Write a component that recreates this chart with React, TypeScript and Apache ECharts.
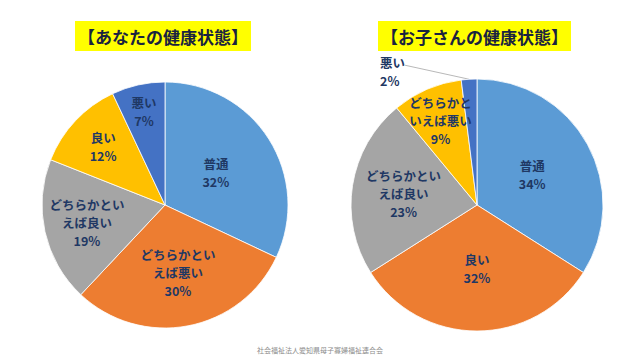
import React, { useEffect, useRef } from "react";
import * as echarts from "echarts";

// ---- Data ----
const leftTitle = "【あなたの健康状態】";
const leftCategories = ["普通", "どちらかといえば悪い", "どちらかといえば良い", "良い", "悪い"];
const leftLabelText = ["普通", "どちらかとい\nえば悪い", "どちらかとい\nえば良い", "良い", "悪い"];
const leftValues = [32, 30, 19, 12, 7];

const rightTitle = "【お子さんの健康状態】";
const rightCategories = ["普通", "良い", "どちらかといえば良い", "どちらかといえば悪い", "悪い"];
const rightLabelText = ["普通", "良い", "どちらかとい\nえば良い", "どちらかと\nいえば悪い", "悪い"];
const rightValues = [34, 32, 23, 9, 2];

const footerText = "社会福祉法人愛知県母子寡婦福祉連合会";

// ---- Styles ----
const sliceColors = ["#5B9BD5", "#ED7D31", "#A5A5A5", "#FFC000", "#4472C4"];
const labelColor = "#1F3864";
const FONT = "'Noto Sans CJK JP', 'Noto Sans', sans-serif";

const L = { cx: 165, cy: 205, r: 123 };
const R = { cx: 477, cy: 205, r: 126 };
// label distance from centre as fraction of radius (null = outside label with leader line)
const leftLabelFrac: (number | null)[] = [0.49, 0.56, 0.65, 0.69, 0.78];
const rightLabelFrac: (number | null)[] = [0.5, 0.5, 0.59, 0.73, null];

function midAngles(values: number[]) {
  const total = values.reduce((a, b) => a + b, 0);
  let acc = 0;
  return values.map((v) => {
    const mid = ((acc + v / 2) / total) * Math.PI * 2;
    acc += v;
    return mid;
  });
}

function makeSeries(
  name: string,
  geo: { cx: number; cy: number; r: number },
  cats: string[],
  texts: string[],
  vals: number[],
  fracs: (number | null)[]
) {
  const mids = midAngles(vals);
  return {
    type: "pie",
    name,
    center: [geo.cx, geo.cy],
    radius: [0, geo.r],
    startAngle: 90,
    clockwise: true,
    avoidLabelOverlap: false,
    silent: true,
    itemStyle: { borderColor: "#ffffff", borderWidth: 0.8 },
    data: cats.map((c, i) => ({
      name: c,
      value: vals[i],
      itemStyle: { color: sliceColors[i] },
      labelLine:
        fracs[i] == null
          ? { show: true, length: 10, length2: 10, lineStyle: { color: "#A6A6A6", width: 0.8 } }
          : { show: false },
    })),
    label: {
      show: true,
      position: "outside",
      color: labelColor,
      fontFamily: FONT,
      fontWeight: "bold",
      fontSize: 12.5,
      lineHeight: 18,
      formatter: (p: any) => `${texts[p.dataIndex]}\n${p.value}%`,
    },
    labelLayout: (p: any) => {
      const a = mids[p.dataIndex];
      const f = fracs[p.dataIndex];
      if (f == null) {
        const ex = geo.cx + geo.r * Math.sin(a);
        const ey = geo.cy - geo.r * Math.cos(a);
        const lx = ex - 89;
        const ly = ey - 8;
        return {
          x: lx,
          y: ly,
          align: "left",
          verticalAlign: "middle",
          labelLinePoints: [
            [ex, ey],
            [lx + 25, ly - 6],
            [lx + 25, ly - 6],
          ],
        };
      }
      return {
        x: geo.cx + f * geo.r * Math.sin(a),
        y: geo.cy - f * geo.r * Math.cos(a),
        align: "center",
        verticalAlign: "middle",
      };
    },
  };
}

export default function App() {
  const ref = useRef<HTMLDivElement>(null);
  useEffect(() => {
    if (!ref.current) return;
    const chart = echarts.init(ref.current, undefined, { renderer: "svg" });
    const titleStyle = {
      fontFamily: FONT,
      fontWeight: "bold",
      fontSize: 17,
      color: "#1A2340",
      lineHeight: 22,
    };
    chart.setOption({
      animation: false,
      backgroundColor: "#ffffff",
      title: [
        {
          text: leftTitle,
          left: 75,
          top: 21,
          backgroundColor: "#FFFF00",
          padding: [4, 3, 4, 3],
          textStyle: titleStyle,
        },
        {
          text: rightTitle,
          left: 378,
          top: 21,
          backgroundColor: "#FFFF00",
          padding: [4, 3, 4, 3],
          textStyle: titleStyle,
        },
        {
          text: footerText,
          left: "center",
          top: 346,
          padding: 0,
          textStyle: {
            fontFamily: FONT,
            fontWeight: "normal",
            fontSize: 7,
            color: "#8C8C8C",
          },
        },
      ],
      series: [
        makeSeries("left", L, leftCategories, leftLabelText, leftValues, leftLabelFrac),
        makeSeries("right", R, rightCategories, rightLabelText, rightValues, rightLabelFrac),
      ],
    });
    return () => chart.dispose();
  }, []);
  return (
    <div
      ref={ref}
      style={{ position: "fixed", left: 0, top: 0, width: 640, height: 360 }}
    />
  );
}
